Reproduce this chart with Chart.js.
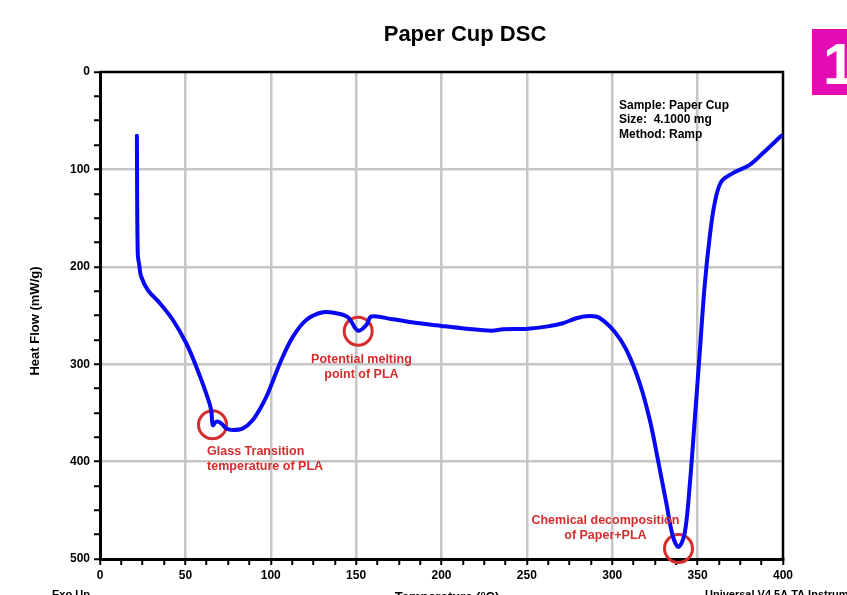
<!DOCTYPE html>
<html>
<head>
<meta charset="utf-8">
<title>Paper Cup DSC</title>
<script src="https://cdn.jsdelivr.net/npm/chart.js@4/dist/chart.umd.min.js"></script>
<style>
  html, body { margin: 0; padding: 0; background: #fff; overflow: hidden; }
  canvas { display: block; }
</style>
</head>
<body>
<canvas id="dsc" width="847" height="595"></canvas>
<script>
// DSC trace of a paper cup sample: temperature (°C) vs heat flow (mW/g)
const temperature = [
  21.6, 22.1, 23.1, 24.1, 28.0, 34.9, 42.7, 50.5, 56.4, 62.2,
  65.1, 66.1, 68.1, 71.0, 73.9, 77.8, 83.7, 89.5, 94.4, 98.3,
  106.2, 113.0, 120.8, 130.5, 138.4, 145.2, 151.0, 156.0, 158.9, 171.5,
  187.2, 199.9, 214.5, 229.2, 236.0, 250.6, 261.4, 271.1, 278.9, 286.8,
  292.6, 301.4, 308.3, 316.1, 322.0, 326.8, 331.7, 335.6, 338.9, 342.4,
  345.3, 348.3, 351.2, 354.1, 357.1, 360.0, 363.9, 370.7, 380.5, 388.3,
  399.0
];
const heatFlow = [
  65.5, 186.0, 199.7, 210.0, 224.0, 237.0, 254.6, 278.5, 302.6, 330.0,
  347.0, 362.5, 359.0, 360.7, 365.9, 367.6, 365.9, 357.3, 343.7, 330.0,
  295.7, 271.7, 254.6, 246.7, 247.7, 251.8, 265.5, 259.7, 251.0, 253.9,
  258.0, 260.7, 263.5, 265.6, 264.2, 263.5, 261.4, 258.0, 252.8, 250.5,
  252.5, 266.6, 285.4, 319.6, 357.3, 398.5, 443.0, 477.3, 487.6, 473.8,
  425.9, 357.3, 288.8, 220.0, 169.0, 134.6, 112.4, 103.8, 95.3, 83.2,
  65.5
];

// Axis labels
const xTickLabels = [0, 50, 100, 150, 200, 250, 300, 350, 400];
const yTickLabels = [0, 100, 200, 300, 400, 500];

// Thermal events marked on the trace
const eventTemps = [65.9, 151.2, 338.8];
const eventFlows = [362.2, 266.2, 489.2];
const eventNotes = [
  ['Glass Transition', 'temperature of PLA'],
  ['Potential melting', 'point of PLA'],
  ['Chemical decomposition', 'of Paper+PLA']
];

const sampleInfo = ['Sample: Paper Cup', 'Size:  4.1000 mg', 'Method: Ramp'];

const FONT = '"Liberation Sans", Arial, Helvetica, sans-serif';
const NOTE_RED = '#d42d2d';

// where each event note sits (data units) and how it is aligned
const noteAnchors = [
  { x: 62.7, y: 393.2, align: 'left' },
  { x: 153.1, y: 298.6, align: 'center' },
  { x: 296.0, y: 464.5, align: 'center' }
];

const decorations = {
  id: 'decorations',
  beforeDatasetsDraw(chart) {
    const { ctx, chartArea: a } = chart;
    ctx.save();
    ctx.strokeStyle = '#000';
    ctx.lineWidth = 2.5;
    ctx.beginPath();
    ctx.moveTo(a.left, a.top);
    ctx.lineTo(a.right, a.top);
    ctx.lineTo(a.right, a.bottom);
    ctx.stroke();
    ctx.restore();
  },
  afterDraw(chart) {
    const { ctx, scales: { x, y } } = chart;
    ctx.save();

    // title
    ctx.fillStyle = '#000';
    ctx.textAlign = 'center';
    ctx.textBaseline = 'alphabetic';
    ctx.font = 'bold 22px ' + FONT;
    ctx.fillText('Paper Cup DSC', 465, 41);

    // y axis title
    ctx.save();
    ctx.translate(39, 321);
    ctx.rotate(-Math.PI / 2);
    ctx.font = 'bold 13px ' + FONT;
    ctx.fillText('Heat Flow (mW/g)', 0, 0);
    ctx.restore();

    // x axis title and footer
    ctx.font = 'bold 13px ' + FONT;
    ctx.fillText('Temperature (°C)', 447, 601);
    ctx.textAlign = 'left';
    ctx.font = 'bold 11px ' + FONT;
    ctx.fillText('Exo Up', 52, 598);
    ctx.fillText('Universal V4.5A TA Instruments', 705, 598);

    // sample block
    ctx.font = 'bold 12px ' + FONT;
    sampleInfo.forEach((line, i) => ctx.fillText(line, 619, 108.5 + i * 14.8));

    // event notes
    ctx.fillStyle = NOTE_RED;
    ctx.font = 'bold 12.5px ' + FONT;
    eventNotes.forEach((lines, i) => {
      const an = noteAnchors[i];
      ctx.textAlign = an.align;
      const px = x.getPixelForValue(an.x);
      const py = y.getPixelForValue(an.y);
      lines.forEach((t, j) => ctx.fillText(t, px, py + j * 15));
    });

    // figure tag
    ctx.fillStyle = '#e40ab4';
    ctx.fillRect(812, 29, 35, 66);
    ctx.fillStyle = '#fff';
    ctx.textAlign = 'left';
    ctx.font = 'bold 58px ' + FONT;
    ctx.fillText('1', 823, 84);

    ctx.restore();
  }
};

const gridGray = '#c6c6c6';

new Chart(document.getElementById('dsc'), {
  type: 'line',
  data: {
    datasets: [
      {
        label: 'Heat Flow',
        data: temperature.map((t, i) => ({ x: t, y: heatFlow[i] })),
        borderColor: '#0808f2',
        borderWidth: 4,
        pointRadius: 0,
        fill: false,
        tension: 0.35,
        borderCapStyle: 'round',
        borderJoinStyle: 'round'
      },
      {
        type: 'scatter',
        label: 'Events',
        data: eventTemps.map((t, i) => ({ x: t, y: eventFlows[i] })),
        showLine: false,
        pointRadius: 14,
        pointHoverRadius: 14,
        pointBorderWidth: 3,
        pointBorderColor: NOTE_RED,
        pointBackgroundColor: 'rgba(0,0,0,0)',
        clip: false
      }
    ]
  },
  options: {
    responsive: false,
    devicePixelRatio: 1,
    animation: false,
    events: [],
    layout: { padding: { top: 72, right: 64, bottom: 0, left: 0 } },
    plugins: {
      legend: { display: false },
      tooltip: { enabled: false },
      title: { display: false }
    },
    scales: {
      x: {
        type: 'linear',
        min: 0,
        max: 400,
        afterFit(scale) { scale.height = 36; },
        ticks: {
          stepSize: 12.5,
          autoSkip: false,
          maxRotation: 0,
          padding: 3,
          color: '#000',
          font: { family: FONT, size: 12, weight: 'bold' },
          callback: v => (xTickLabels.includes(v) ? String(v) : '')
        },
        grid: {
          color: c => (c.tick && xTickLabels.includes(c.tick.value) && c.tick.value > 0 && c.tick.value < 400) ? gridGray : 'rgba(0,0,0,0)',
          lineWidth: 2.5,
          tickColor: '#000',
          tickWidth: 2,
          tickLength: 6,
          drawTicks: true
        },
        border: { display: true, color: '#000', width: 3 }
      },
      y: {
        type: 'linear',
        reverse: true,
        min: 0,
        max: 500,
        afterFit(scale) { scale.width = 100; },
        ticks: {
          stepSize: 25,
          autoSkip: false,
          padding: 4,
          color: '#000',
          font: { family: FONT, size: 12, weight: 'bold' },
          callback: v => (yTickLabels.includes(v) ? String(v) : '')
        },
        grid: {
          color: c => (c.tick && yTickLabels.includes(c.tick.value) && c.tick.value > 0 && c.tick.value < 500) ? gridGray : 'rgba(0,0,0,0)',
          lineWidth: 2.5,
          tickColor: '#000',
          tickWidth: 2,
          tickLength: 6,
          drawTicks: true
        },
        border: { display: true, color: '#000', width: 3 }
      }
    }
  },
  plugins: [decorations]
});
</script>
</body>
</html>
